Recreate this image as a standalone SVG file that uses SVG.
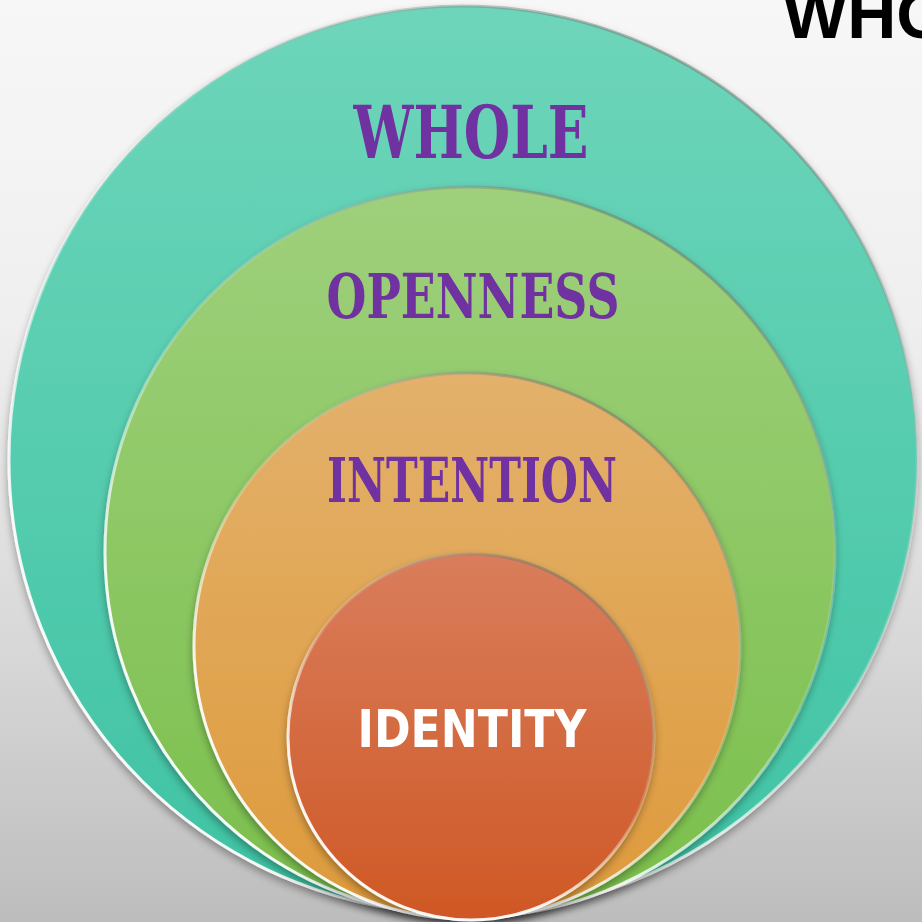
<svg xmlns="http://www.w3.org/2000/svg" width="922" height="922" viewBox="0 0 922 922">
  <defs>
    <linearGradient id="bg" x1="0" y1="0" x2="0" y2="1">
      <stop offset="0" stop-color="#f7f7f7"/>
      <stop offset="0.35" stop-color="#efefef"/>
      <stop offset="0.7" stop-color="#d8d8d8"/>
      <stop offset="1" stop-color="#bdbdbd"/>
    </linearGradient>
    <linearGradient id="teal" x1="0" y1="0" x2="0" y2="1">
      <stop offset="0" stop-color="#6ed5ba"/>
      <stop offset="1" stop-color="#3ec3a3"/>
    </linearGradient>
    <linearGradient id="green" x1="0" y1="0" x2="0" y2="1">
      <stop offset="0" stop-color="#9fd07c"/>
      <stop offset="1" stop-color="#7abf4b"/>
    </linearGradient>
    <linearGradient id="orange" x1="0" y1="0" x2="0" y2="1">
      <stop offset="0" stop-color="#e3b16c"/>
      <stop offset="1" stop-color="#de9a3b"/>
    </linearGradient>
    <linearGradient id="red" x1="0" y1="0" x2="0" y2="1">
      <stop offset="0" stop-color="#d97d5c"/>
      <stop offset="1" stop-color="#cf5825"/>
    </linearGradient>
    <!-- rim: dark edge on top, bright highlight on the lower left -->
    <linearGradient id="rim" x1="0.8" y1="0" x2="0.2" y2="1">
      <stop offset="0" stop-color="#4a5a50" stop-opacity="0.55"/>
      <stop offset="0.45" stop-color="#ffffff" stop-opacity="0.15"/>
      <stop offset="0.75" stop-color="#ffffff" stop-opacity="0.9"/>
      <stop offset="1" stop-color="#ffffff" stop-opacity="0.95"/>
    </linearGradient>
    <filter id="shadow" x="-10%" y="-10%" width="120%" height="125%">
      <feGaussianBlur in="SourceAlpha" stdDeviation="4"/>
      <feOffset dx="0" dy="4" result="b"/>
      <feComponentTransfer><feFuncA type="linear" slope="0.35"/></feComponentTransfer>
      <feMerge><feMergeNode/><feMergeNode in="SourceGraphic"/></feMerge>
    </filter>
  </defs>
  <style>
    .ring { stroke: url(#rim); stroke-width: 3; }
    .title { font-family: "DejaVu Serif", "Liberation Serif", serif; font-weight: bold; fill: #7030a0; text-anchor: middle; }
    .core { font-family: "DejaVu Sans", "Liberation Sans", sans-serif; font-weight: bold; fill: #ffffff; text-anchor: middle; }
    .head { font-family: "Liberation Sans", Arial, sans-serif; font-weight: bold; fill: #000000; }
  </style>

  <rect x="0" y="0" width="922" height="922" fill="url(#bg)"/>

  <text class="head" x="783" y="38" font-size="68">WHO</text>

  <g id="whole" filter="url(#shadow)">
    <circle class="ring" cx="463" cy="460" r="454" fill="url(#teal)"/>
    <text class="title" x="471" y="158" font-size="73" textLength="235" lengthAdjust="spacingAndGlyphs">WHOLE</text>
  </g>

  <g id="openness" filter="url(#shadow)">
    <circle class="ring" cx="470" cy="552" r="365" fill="url(#green)"/>
    <text class="title" x="473" y="318" font-size="62" textLength="293" lengthAdjust="spacingAndGlyphs">OPENNESS</text>
  </g>

  <g id="intention" filter="url(#shadow)">
    <circle class="ring" cx="467" cy="646" r="273" fill="url(#orange)"/>
    <text class="title" x="472" y="502" font-size="62" textLength="290" lengthAdjust="spacingAndGlyphs">INTENTION</text>
  </g>

  <g id="identity" filter="url(#shadow)">
    <circle class="ring" cx="471" cy="737" r="183" fill="url(#red)"/>
    <text class="core" x="472" y="747" font-size="51" textLength="229" lengthAdjust="spacingAndGlyphs">IDENTITY</text>
  </g>

  <g id="connectors"/>
</svg>
